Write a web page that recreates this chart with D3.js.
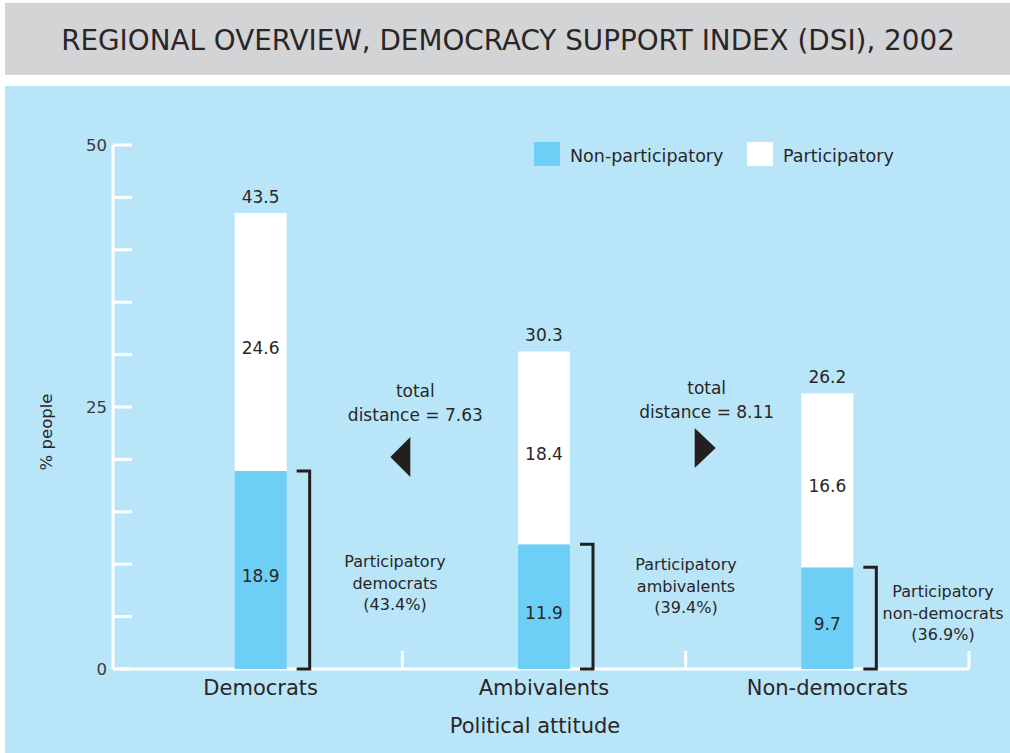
<!DOCTYPE html>
<html>
<head>
<meta charset="utf-8">
<script src="https://cdn.jsdelivr.net/npm/d3@7"></script>
<style>
  html, body { margin: 0; padding: 0; background: #ffffff; }
  svg { display: block; }
  text { font-family: "DejaVu Sans", "Noto Sans", sans-serif; fill: #2a2627; }
</style>
</head>
<body>
<svg id="chart" width="1010" height="753"></svg>
<script>
// ---- data ----
const categories = ["Democrats", "Ambivalents", "Non-democrats"];
const nonParticipatory = [18.9, 11.9, 9.7];
const participatory = [24.6, 18.4, 16.6];
const totals = [43.5, 30.3, 26.2];
const participatoryShareLabels = [
  ["Participatory", "democrats", "(43.4%)"],
  ["Participatory", "ambivalents", "(39.4%)"],
  ["Participatory", "non-democrats", "(36.9%)"]
];
const distances = [7.63, 8.11];
const yTicks = [0, 25, 50];
const yMinorTicks = [0, 5, 10, 15, 20, 25, 30, 35, 40, 45, 50];
const seriesNames = ["Non-participatory", "Participatory"];
const titleText = "REGIONAL OVERVIEW, DEMOCRACY SUPPORT INDEX (DSI), 2002";

// ---- colours ----
const cBlue = "#6dcff6", cWhite = "#ffffff", cPanel = "#b9e5f9", cBanner = "#d3d4d6", cInk = "#231f20";

const svg = d3.select("#chart");

// banner & panel
svg.append("rect").attr("x", 5).attr("y", 3).attr("width", 1005).attr("height", 72).attr("fill", cBanner);
svg.append("text").attr("x", 508).attr("y", 50).attr("text-anchor", "middle")
  .style("font-size", "27.8px").text(titleText);
svg.append("rect").attr("x", 5).attr("y", 86).attr("width", 1005).attr("height", 667).attr("fill", cPanel);

// scales
const y = d3.scaleLinear().domain([0, 50]).range([669, 145]);
const x = d3.scaleBand().domain(categories).range([119, 969]).paddingInner(0).paddingOuter(0);
const barW = 52;
const cx = c => x(c) + x.bandwidth() / 2;

// y axis
const yAxisG = svg.append("g").attr("transform", "translate(113,0)");
yAxisG.append("line").attr("x1", 0).attr("x2", 0).attr("y1", y(0)).attr("y2", y(50))
  .attr("stroke", "#fff").attr("stroke-width", 3);
yAxisG.selectAll("line.minor").data(yMinorTicks).join("line").attr("class", "minor")
  .attr("x1", 0).attr("x2", 19).attr("y1", d => y(d)).attr("y2", d => y(d))
  .attr("stroke", "#fff").attr("stroke-width", 3);
yAxisG.selectAll("text.tl").data(yTicks).join("text").attr("class", "tl")
  .attr("x", -6).attr("y", d => y(d)).attr("dy", "0.35em").attr("text-anchor", "end")
  .style("font-size", "16.5px").style("fill", "#3a3a3a").text(d => d);

// x axis
svg.append("line").attr("x1", 113).attr("x2", x.range()[1]).attr("y1", y(0)).attr("y2", y(0))
  .attr("stroke", "#fff").attr("stroke-width", 3);
svg.selectAll("line.sep").data(categories).join("line").attr("class", "sep")
  .attr("x1", d => x(d) + x.bandwidth()).attr("x2", d => x(d) + x.bandwidth())
  .attr("y1", y(0)).attr("y2", y(0) - 18).attr("stroke", "#fff").attr("stroke-width", 3);
svg.selectAll("text.cat").data(categories).join("text").attr("class", "cat")
  .attr("x", d => cx(d)).attr("y", 695).attr("text-anchor", "middle")
  .style("font-size", "21px").text(d => d);
svg.append("text").attr("x", 535).attr("y", 733).attr("text-anchor", "middle")
  .style("font-size", "21px").text("Political attitude");
svg.append("text").attr("transform", "translate(52,432) rotate(-90)").attr("text-anchor", "middle")
  .style("font-size", "16.5px").text("% people");

// bars
const rows = categories.map((c, i) => ({ c, i, np: nonParticipatory[i], p: participatory[i], t: totals[i], lab: participatoryShareLabels[i] }));
const g = svg.append("g");
g.selectAll("rect.np").data(rows).join("rect").attr("class", "np")
  .attr("x", d => cx(d.c) - barW / 2).attr("width", barW)
  .attr("y", d => y(d.np)).attr("height", d => y(0) - y(d.np)).attr("fill", cBlue);
g.selectAll("rect.p").data(rows).join("rect").attr("class", "p")
  .attr("x", d => cx(d.c) - barW / 2).attr("width", barW)
  .attr("y", d => y(d.np + d.p)).attr("height", d => y(d.np) - y(d.np + d.p)).attr("fill", cWhite);

// value labels
g.selectAll("text.tot").data(rows).join("text").attr("class", "tot")
  .attr("x", d => cx(d.c)).attr("y", d => y(d.np + d.p) - 10).attr("text-anchor", "middle")
  .style("font-size", "17px").text(d => d.t.toFixed(1));
g.selectAll("text.pv").data(rows).join("text").attr("class", "pv")
  .attr("x", d => cx(d.c)).attr("y", d => (y(d.np) + y(d.np + d.p)) / 2 + 12).attr("text-anchor", "middle")
  .style("font-size", "17px").text(d => d.p.toFixed(1));
g.selectAll("text.npv").data(rows).join("text").attr("class", "npv")
  .attr("x", d => cx(d.c)).attr("y", d => (y(0) + y(d.np)) / 2 + 12).attr("text-anchor", "middle")
  .style("font-size", "17px").text(d => d.np.toFixed(1));

// brackets
g.selectAll("path.br").data(rows).join("path").attr("class", "br")
  .attr("d", d => {
    const x0 = cx(d.c) + barW / 2 + 10, x1 = x0 + 13;
    return `M${x0},${y(d.np)}H${x1}V${y(0)}H${x0}`;
  })
  .attr("fill", "none").attr("stroke", cInk).attr("stroke-width", 3);

// bracket labels (layout positions)
const labelPos = [{ x: 395, y: 567 }, { x: 686, y: 570 }, { x: 943, y: 597 }];
const bl = g.selectAll("text.bl").data(rows).join("text").attr("class", "bl")
  .attr("text-anchor", "middle").style("font-size", "16px")
  .attr("transform", d => `translate(${labelPos[d.i].x},${labelPos[d.i].y})`);
bl.selectAll("tspan").data(d => d.lab).join("tspan")
  .attr("x", 0).attr("dy", (d, i) => i === 0 ? 0 : 21.5).text(d => d);

// distance annotations
const ann = [
  { x: x(categories[1]) + 13, tri: "left" , y0: 397, dist: distances[0] },
  { x: x(categories[2]) + 21, tri: "right", y0: 394, dist: distances[1] }
];
ann.forEach(a => {
  const t = svg.append("text").attr("x", a.x).attr("y", a.y0).attr("text-anchor", "middle").style("font-size", "17px");
  t.append("tspan").attr("x", a.x).text("total");
  t.append("tspan").attr("x", a.x).attr("dy", 23.5).text("distance = " + a.dist.toFixed(2));
  if (a.tri === "left") {
    svg.append("path").attr("d", `M${a.x - 25},457L${a.x - 5},437L${a.x - 5},477Z`).attr("fill", cInk);
  } else {
    svg.append("path").attr("d", `M${a.x - 12},428L${a.x + 9},448L${a.x - 12},468Z`).attr("fill", cInk);
  }
});

// legend
const leg = svg.append("g");
const legItems = [{ name: seriesNames[0], color: cBlue, x: 534 }, { name: seriesNames[1], color: cWhite, x: 747 }];
legItems.forEach(l => {
  leg.append("rect").attr("x", l.x).attr("y", 142).attr("width", 26).attr("height", 24).attr("fill", l.color);
  leg.append("text").attr("x", l.x + 36).attr("y", 162).style("font-size", "17.5px").text(l.name);
});
</script>
</body>
</html>
